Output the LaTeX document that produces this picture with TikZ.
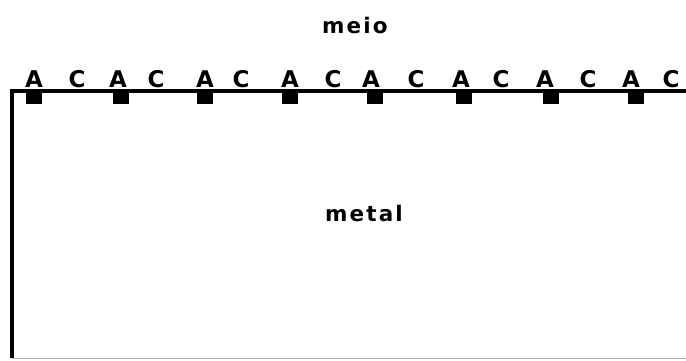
\documentclass[tikz,border=0pt]{standalone}
\usepackage{fontspec}
\setmainfont{DejaVu Sans}
\newfontfamily\labfont[LetterSpace=10]{DejaVu Sans}
\begin{document}
\begin{tikzpicture}[x=1pt,y=-1pt,
  lab/.style={font=\labfont\bfseries\fontsize{21.5}{24}\selectfont, inner sep=0pt},
  ion/.style={font=\bfseries\fontsize{23}{25}\selectfont, inner sep=0pt, anchor=base},
  site/.style={fill=black, draw=none, minimum width=16pt, minimum height=12pt, inner sep=0pt, anchor=north}]
\useasboundingbox (0,0) rectangle (686,360);
% metal boundary
\draw[line width=4pt] (686,90.5) -- (11.5,90.5) -- (11.5,358);
\draw[gray!60, line width=0.8pt] (11.5,358) -- (686,358);
% labels
\node[lab] (meio) at (355,25) {meio};
\node[lab] (metal) at (364,213) {metal};
% A and C ions
\foreach \x [count=\i] in {34,118,205,290,371,461,545,631}
  \node[ion] (A\i) at (\x,87) {A};
\foreach \x [count=\i] in {77,156,241,333,416,501,588,671}
  \node[ion] (C\i) at (\x,87) {C};
% adsorption sites
\foreach \x [count=\i] in {34,121,205,290,375,464,551,636}
  \node[site] (s\i) at (\x,92) {};
\end{tikzpicture}
\end{document}
